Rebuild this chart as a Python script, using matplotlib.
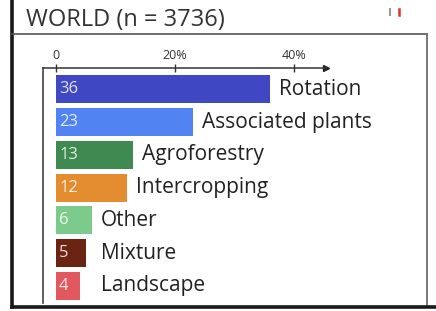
import numpy as np
import matplotlib
matplotlib.use("Agg")
import matplotlib.pyplot as plt
from matplotlib.lines import Line2D

plt.rcParams['font.family'] = ['Open Sans', 'DejaVu Sans']

categories = ["Rotation", "Associated plants", "Agroforestry", "Intercropping",
              "Other", "Mixture", "Landscape"]
shares = [36, 23, 13, 12, 6, 5, 4]
colors = ["#3f47c2", "#5184f2", "#3f8a50", "#e48c30", "#7ccb8c", "#6b2412", "#e1595f"]
tick_vals = [0, 20, 40]
tick_labels = ["0", "20%", "40%"]
title = "WORLD (n = 3736)"

fig = plt.figure(figsize=(4.36, 3.11), dpi=100)
ax = fig.add_axes([43/436, 1 - 303/311, (326 - 43)/436, (303 - 68)/311])

y = np.arange(len(categories))
ax.barh(y, shares, height=0.86, color=colors, left=0)

for yi, v, name in zip(y, shares, categories):
		ax.text(0.5, yi, str(v), color="white", fontsize=12, va="center", ha="left", alpha=0.85)
		ax.text(max(v + 1.5, 7.5), yi, name, color="#222222", fontsize=15, va="center", ha="left")

ax.set_xlim(-2.2, 45.4)
ax.set_ylim(len(categories) - 0.48, -0.65)
ax.set_yticks([])
ax.xaxis.tick_top()
ax.set_xticks(tick_vals)
ax.set_xticklabels(tick_labels, fontsize=9, color="#333333")
ax.tick_params(axis="x", direction="inout", length=6, width=1, color="#333333", pad=1)

for s in ["bottom", "right"]:
		ax.spines[s].set_visible(False)
for s in ["top", "left"]:
		ax.spines[s].set_color("#333333")
		ax.spines[s].set_linewidth(1.1)
ax.plot([1.0], [1.0], marker=">", markersize=4, color="#222222",
		transform=ax.transAxes, clip_on=False)

# panel frame
fig.add_artist(Line2D([12/436, 12/436], [1.0, 1 - 307/311], color="#1a1a1a", lw=2.6))
fig.add_artist(Line2D([12/436, 427/436], [1 - 34/311, 1 - 34/311], color="#555555", lw=1.2))
fig.add_artist(Line2D([427/436, 427/436], [1 - 34/311, 1 - 307/311], color="#777777", lw=1.4))
fig.add_artist(Line2D([12/436, 1.0], [1 - 307/311, 1 - 307/311], color="#1a1a1a", lw=2.6))
fig.add_artist(Line2D([390/436, 390/436], [1 - 9/311, 1 - 15/311], color="#999999", lw=1.5))
fig.add_artist(Line2D([399/436, 399/436], [1 - 9/311, 1 - 15/311], color="#e03030", lw=1.8))

fig.text(26/436, 1 - 20/311, title, fontsize=17, color="#333333", va="center", ha="left")

fig.savefig("out.png", dpi=100)
